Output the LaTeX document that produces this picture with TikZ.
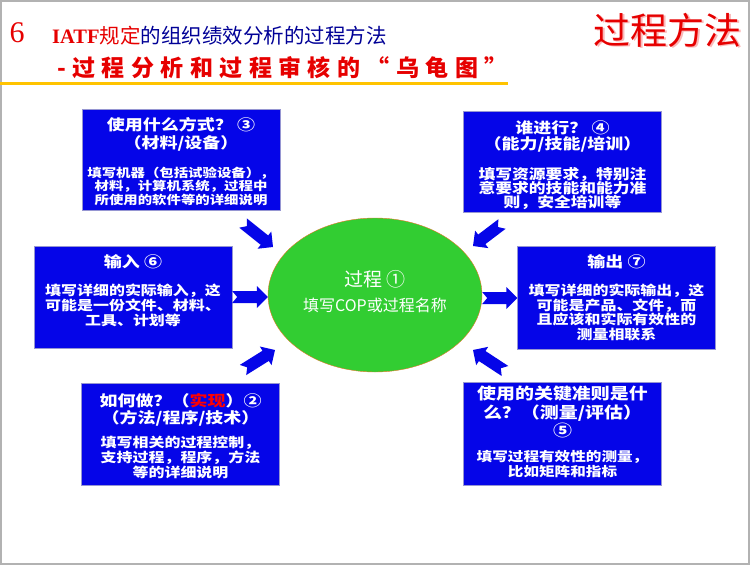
\documentclass[tikz,border=0pt]{standalone}
\usepackage{fontspec}
\setmainfont{Liberation Serif}
\newfontfamily\cjk{Noto Sans CJK SC}
\newfontfamily\cjkbox{Noto Sans CJK SC}[FakeStretch=1.2]
\newfontfamily\cjkwide{Noto Sans CJK SC}[LetterSpace=28]
\usetikzlibrary{calc,positioning,shapes.geometric}

\definecolor{boxblue}{RGB}{5,5,232}
\definecolor{boxline}{RGB}{150,150,210}
\definecolor{procgreen}{RGB}{50,205,50}
\definecolor{procline}{RGB}{230,120,40}
\definecolor{titlered}{RGB}{230,0,0}
\definecolor{titleblue}{RGB}{0,0,150}
\definecolor{shadowred}{RGB}{250,185,185}
\definecolor{lineyellow}{RGB}{255,195,0}

\lineskiplimit=-20pt
\newcommand{\boxfont}[2]{\cjkbox\bfseries\fontsize{#1}{#2}\selectfont}
\newcommand{\blockarrow}[2]{%
  \fill[boxblue]
    ($(#1)!6pt!90:(#2)$) --
    ($(#2)!11pt!(#1)!6pt!-90:(#1)$) --
    ($(#2)!11pt!(#1)!11pt!-90:(#1)$) --
    (#2) --
    ($(#2)!11pt!(#1)!11pt!90:(#1)$) --
    ($(#2)!11pt!(#1)!6pt!90:(#1)$) --
    ($(#1)!6pt!-90:(#2)$) --
    ($(#1)!5pt!(#2)$) -- cycle;}

\begin{document}
\begin{tikzpicture}[x=1pt,y=-1pt,
    box/.style={draw=boxline,fill=boxblue,minimum width=198pt,minimum height=101pt,inner sep=0pt},
    boxtext/.style={text=white,align=center,inner sep=0pt},
    procell/.style={ellipse,draw=procline,fill=procgreen,minimum width=214pt,minimum height=154pt,inner sep=0pt}]
\useasboundingbox (0,0) rectangle (750,565);
\draw[gray!60,line width=1.5pt] (1,1) rectangle (749,564);

\node[text=titlered,font=\fontsize{30}{30}\selectfont] (num) at (17,33) {6};
\node[anchor=west,inner sep=0pt,font=\cjk\fontsize{20.5}{20.5}\selectfont] (head1) at (52,36)
  {\textcolor{titlered}{\rmfamily\bfseries IATF}\textcolor{titlered}{规定}\textcolor{titleblue}{的组织绩效分析的过程方法}};
\node[anchor=west,inner sep=0pt,text=titlered,font=\cjkwide\bfseries\fontsize{23}{23}\selectfont] (head2) at (57,68)
  {-过程分析和过程审核的“乌龟图”};
\draw[lineyellow,line width=3pt] (0,83) -- (head2.east |- 0,83);
\node[anchor=east,inner sep=0pt,text=shadowred,font=\cjk\fontsize{37}{37}\selectfont] at (743.5,31.5) {过程方法};
\node[anchor=east,inner sep=0pt,text=titlered,font=\cjk\fontsize{37}{37}\selectfont] (head3) at (742,30) {过程方法};

\node[box] (b3) at (181,160) {};
\node[boxtext,font=\boxfont{15}{18},below=8pt of b3.north] (b3h) {使用什么方式？ ③\\（材料/设备）};
\node[boxtext,font=\boxfont{12}{13.5},below=15pt of b3h] (b3b) {填写机器（包括试验设备），\\材料，计算机系统，过程中\\所使用的软件等的详细说明};

\node[box] (b4) at (562.5,162) {};
\node[boxtext,font=\boxfont{15}{16},below=9pt of b4.north] (b4h) {谁进行？ ④\\（能力/技能/培训）};
\node[boxtext,font=\boxfont{14}{14},below=15pt of b4h] (b4b) {填写资源要求，特别注\\意要求的技能和能力准\\则，安全培训等};

\node[box,minimum height=102pt] (b6) at (133,297) {};
\node[boxtext,font=\boxfont{15}{18},below=9pt of b6.north] (b6h) {输入 ⑥};
\node[boxtext,font=\boxfont{13.3}{15},below=14pt of b6h] (b6b) {填写详细的实际输入，这\\可能是一份文件、材料、\\工具、计划等};

\node[box,minimum height=103pt] (b7) at (616.5,298) {};
\node[boxtext,font=\boxfont{15}{18},below=8pt of b7.north] (b7h) {输出 ⑦};
\node[boxtext,font=\boxfont{13.3}{14.5},below=15pt of b7h] (b7b) {填写详细的实际输出，这\\可能是产品、文件，而\\且应该和实际有效性的\\测量相联系};

\node[box,minimum height=102pt] (b2) at (180.5,434) {};
\node[boxtext,font=\boxfont{15}{17},below=10pt of b2.north] (b2h) {如何做？（\textcolor{red}{实现}）②\\（方法/程序/技术）};
\node[boxtext,font=\boxfont{13.3}{15},below=10pt of b2h] (b2b) {填写相关的过程控制，\\支持过程，程序，方法\\等的详细说明};

\node[box,minimum height=103pt] (b5) at (562.5,433.5) {};
\node[boxtext,font=\boxfont{15.8}{18.5},below=4pt of b5.north] (b5h) {使用的关键准则是什\\么？（测量/评估）\\⑤};
\node[boxtext,font=\boxfont{13}{15},below=12pt of b5h] (b5b) {填写过程有效性的测量，\\比如矩阵和指标};

\node[procell] (proc) at (375,295) {};
\node[text=white,inner sep=0pt,font=\cjk\fontsize{19}{19}\selectfont,above=6.5pt of proc.center] (proch) {过程 ①};
\node[text=white,inner sep=0pt,font=\cjk\fontsize{16}{16}\selectfont,below=3pt of proc.center] (procb) {填写COP或过程名称};

\coordinate (a3s) at (243,223);
\coordinate (a3e) at (273,247);
\coordinate (a4s) at (502,224);
\coordinate (a4e) at (473,246);
\coordinate (a2s) at (243,370);
\coordinate (a2e) at (275,350);
\coordinate (a5s) at (505,371);
\coordinate (a5e) at (473,350);
\coordinate (a6e) at (proc.west |- b6.east);
\coordinate (a7s) at (proc.east |- b7.west);
\blockarrow{a3s}{a3e}
\blockarrow{a4s}{a4e}
\blockarrow{a2s}{a2e}
\blockarrow{a5s}{a5e}
\blockarrow{b6.east}{a6e}
\blockarrow{a7s}{b7.west}
\end{tikzpicture}
\end{document}
